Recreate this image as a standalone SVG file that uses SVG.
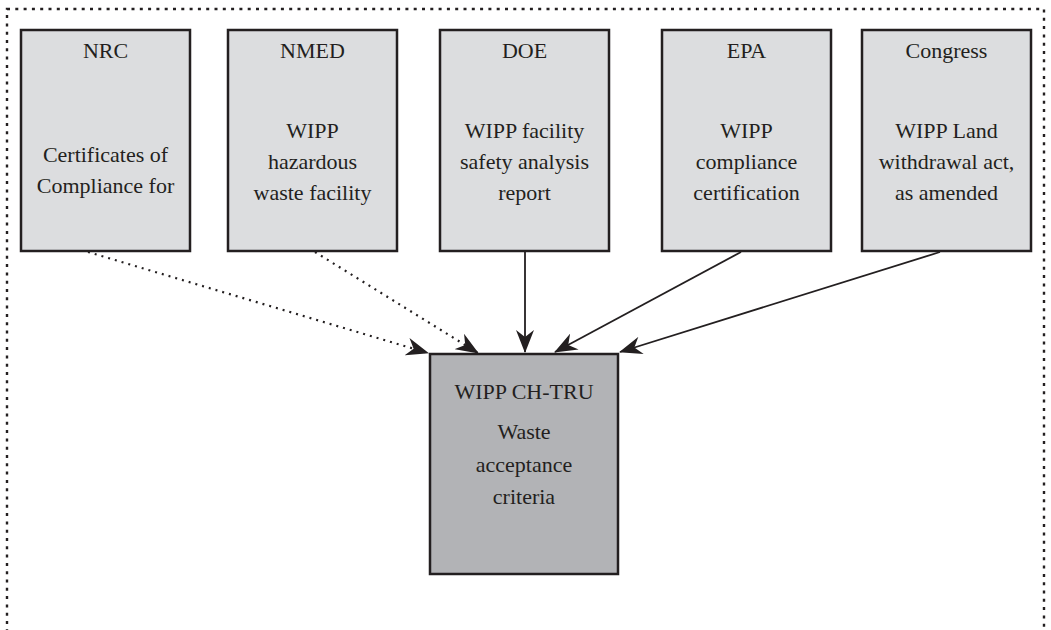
<svg xmlns="http://www.w3.org/2000/svg" width="1051" height="630" viewBox="0 0 1051 630">
<style>
.src{fill:#dcdddf;stroke:#231f20;stroke-width:2.5}
.dst{fill:#b2b3b6;stroke:#231f20;stroke-width:2.5}
text{font-family:"Liberation Serif","DejaVu Serif",serif;font-size:22px;fill:#231f20;text-anchor:middle}
.solid{stroke:#231f20;stroke-width:1.8;fill:none}
.dot{stroke:#231f20;stroke-width:2.2;fill:none;stroke-dasharray:2 5}
</style>
<defs>
<marker id="ah" markerUnits="userSpaceOnUse" markerWidth="24" markerHeight="18" viewBox="0 0 24 18" refX="22" refY="9" orient="auto">
<path d="M0,0 L23,9 L0,18 L7,9 Z" fill="#231f20"/>
</marker>
</defs>
<rect x="7" y="9" width="1037" height="640" fill="none" stroke="#231f20" stroke-width="2.4" stroke-dasharray="3 5.3"/>
<g id="connectors">
<line class="dot" x1="88" y1="252" x2="428" y2="353" marker-end="url(#ah)"/>
<line class="dot" x1="315" y1="252" x2="478" y2="353" marker-end="url(#ah)"/>
<line class="solid" x1="525" y1="252" x2="525" y2="352" marker-end="url(#ah)"/>
<line class="solid" x1="741" y1="252" x2="555" y2="352" marker-end="url(#ah)"/>
<line class="solid" x1="940" y1="252" x2="620" y2="352" marker-end="url(#ah)"/>
</g>
<g id="nrc">
<rect class="src" x="21" y="30" width="169" height="221"/>
<text x="105.5" y="58">NRC</text>
<text x="105.5" y="162">Certificates of</text>
<text x="105.5" y="193">Compliance for</text>
</g>
<g id="nmed">
<rect class="src" x="228" y="30" width="169" height="221"/>
<text x="312.5" y="58">NMED</text>
<text x="312.5" y="138">WIPP</text>
<text x="312.5" y="169">hazardous</text>
<text x="312.5" y="200">waste facility</text>
</g>
<g id="doe">
<rect class="src" x="440" y="30" width="169" height="221"/>
<text x="524.5" y="58">DOE</text>
<text x="524.5" y="138">WIPP facility</text>
<text x="524.5" y="169">safety analysis</text>
<text x="524.5" y="200">report</text>
</g>
<g id="epa">
<rect class="src" x="662" y="30" width="169" height="221"/>
<text x="746.5" y="58">EPA</text>
<text x="746.5" y="138">WIPP</text>
<text x="746.5" y="169">compliance</text>
<text x="746.5" y="200">certification</text>
</g>
<g id="congress">
<rect class="src" x="862" y="30" width="169" height="221"/>
<text x="946.5" y="58">Congress</text>
<text x="946.5" y="138">WIPP Land</text>
<text x="946.5" y="169">withdrawal act,</text>
<text x="946.5" y="200">as amended</text>
</g>
<g id="wac">
<rect class="dst" x="430" y="354" width="188" height="220"/>
<text x="524" y="399">WIPP CH-TRU</text>
<text x="524" y="439">Waste</text>
<text x="524" y="472">acceptance</text>
<text x="524" y="504">criteria</text>
</g>
</svg>
